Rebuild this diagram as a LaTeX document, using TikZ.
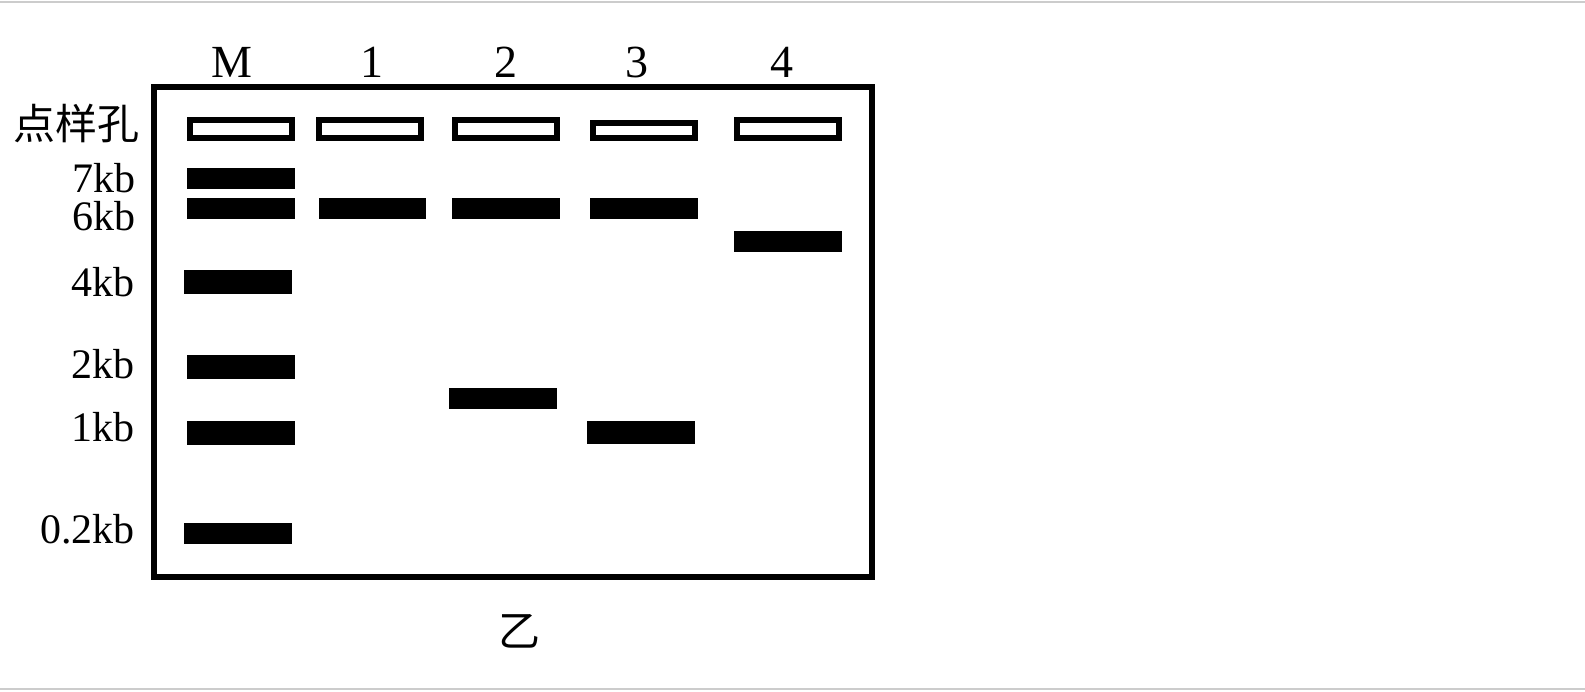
\documentclass[tikz,border=0pt]{standalone}
\usepackage{fontspec}
\setmainfont{Liberation Serif}
\newfontfamily\cjk{Noto Sans CJK SC}
\begin{document}
\begin{tikzpicture}[x=1pt,y=-1pt,
  gelbox/.style={draw,line width=6pt,minimum width=718pt,minimum height=490pt,
                 inner sep=0pt},
  well/.style ={draw,fill=white,line width=6pt,minimum width=101.4pt,
                minimum height=#1,inner sep=0pt},
  well/.default=18pt,
  band/.style ={fill=black,minimum width=107.4pt,minimum height=#1,inner sep=0pt},
  band/.default=21pt,
  lanelab/.style={anchor=base,inner sep=0pt,font=\fontsize{46}{52}\selectfont},
  sizelab/.style={anchor=base east,inner sep=0pt,font=\fontsize{42}{48}\selectfont},
  cjklab/.style ={inner sep=0pt,font=\cjk\fontsize{42}{48}\selectfont},
  rule/.style   ={gray!40,line width=2pt}
]
\useasboundingbox (0,0) rectangle (1585,691);
\draw[rule] (0,2) -- (1585,2);
\draw[rule] (0,689) -- (1585,689);
\def\xm{241}\def\xa{370}\def\xb{506}\def\xc{644}\def\xd{788}
% gel
\node[gelbox] (gel) at (513,332) {};
% loading wells
\node[well] (wm) at (\xm,129) {};
\node[well] (w1) at (\xa,129) {};
\node[well] (w2) at (\xb,129) {};
\node[well=14.4pt] (w3) at (\xc,130.5) {};
\node[well] (w4) at (\xd,129) {};
% marker ladder
\node[band] (m7)  at (\xm,178.7) {};
\node[band] (m6)  at (\xm,208.3) {};
\node[band=23.5pt] (m4) at (238,281.8) {};
\node[band=23.5pt] (m2) at (241,367) {};
\node[band=23.5pt] (m1) at (241,433) {};
\node[band] (m02) at (238,533.3) {};
% sample lanes
\node[band] (b1)  at (372.5,208.3) {};
\node[band] (b2a) at (\xb,208.3) {};
\node[band] (b2b) at (503,398.5) {};
\node[band] (b3a) at (\xc,208.3) {};
\node[band=23pt] (b3b) at (641,432.7) {};
\node[band] (b4)  at (\xd,241.3) {};
% lane labels
\node[lanelab] (lm) at (232,77.7) {M};
\node[lanelab] (l1) at (372,77.7) {1};
\node[lanelab] (l2) at (505.5,77.7) {2};
\node[lanelab] (l3) at (637,77.7) {3};
\node[lanelab] (l4) at (782,77.7) {4};
% size labels
\node[cjklab,anchor=east] (wlab) at (140,123) {点样孔};
\node[sizelab] (s7)  at (136,192) {7kb};
\node[sizelab] (s6)  at (136,230) {6kb};
\node[sizelab] (s4)  at (135,296) {4kb};
\node[sizelab] (s2)  at (135,378) {2kb};
\node[sizelab] (s1)  at (135,441) {1kb};
\node[sizelab] (s02) at (135,543) {0.2kb};
\node[cjklab] (cap) at (519.5,631) {乙};
\end{tikzpicture}
\end{document}
